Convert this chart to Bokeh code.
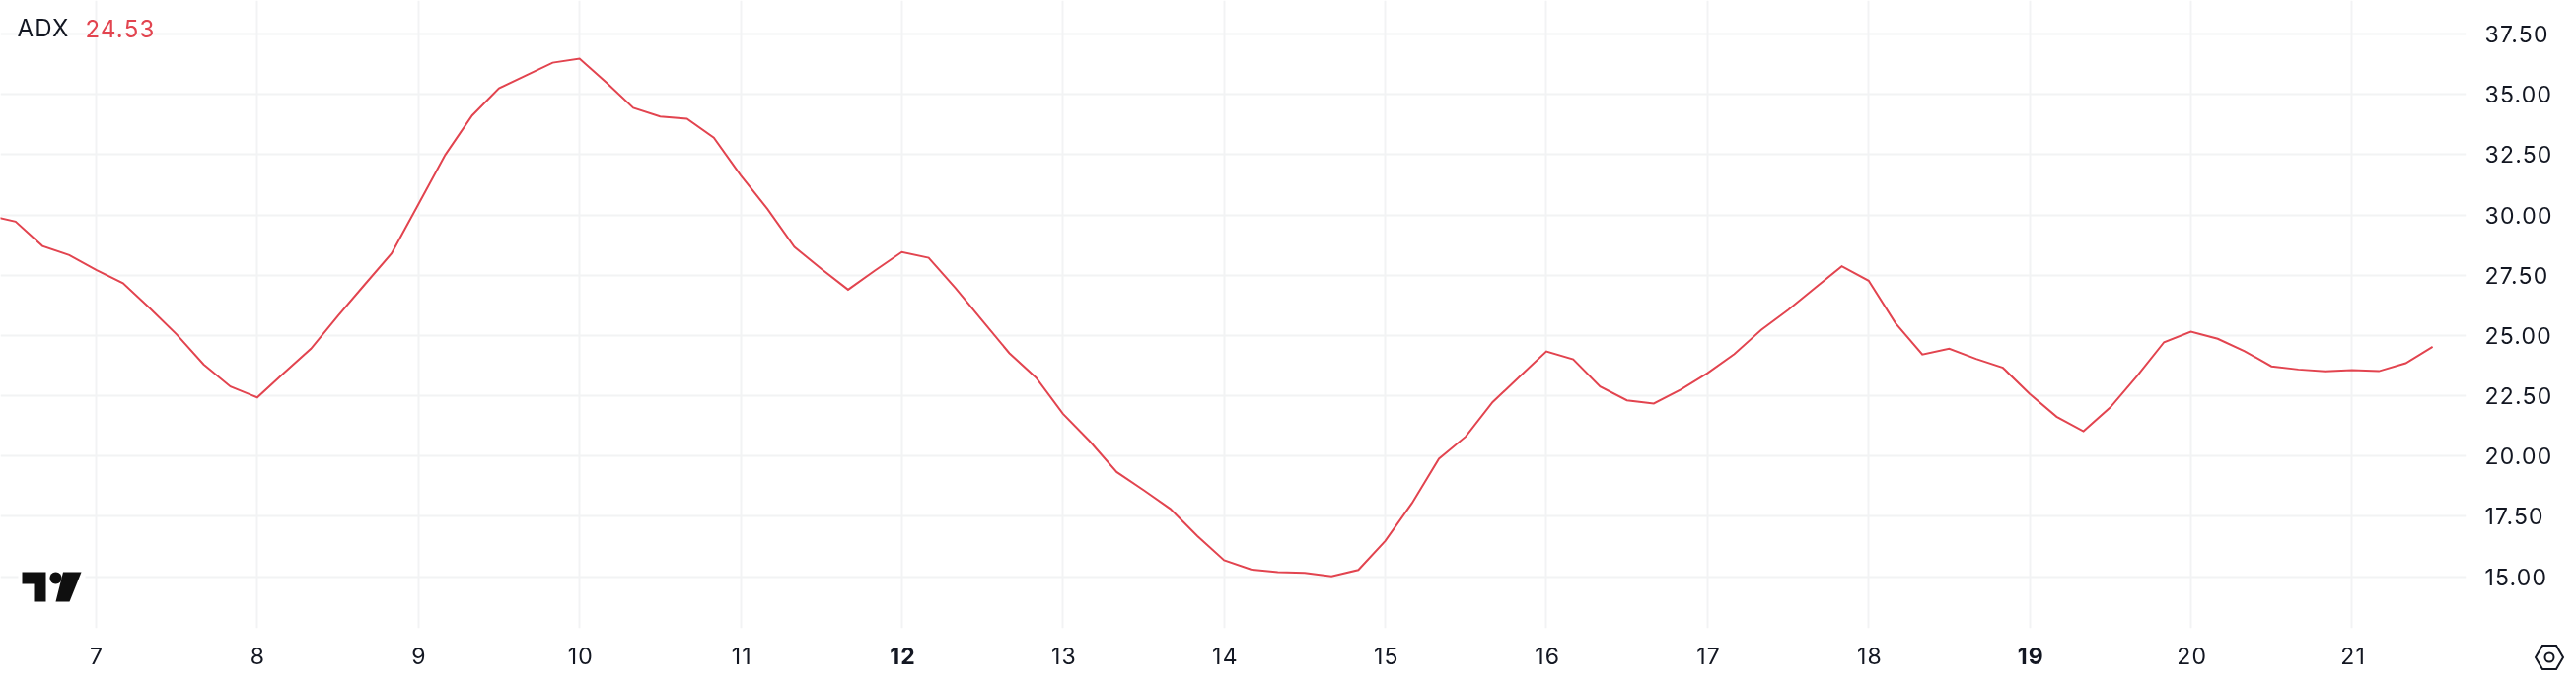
from bokeh.plotting import figure
from bokeh.layouts import column
from bokeh.models import Div, FixedTicker, Label, LinearAxis, PolyAnnotation, Range1d
from bokeh.embed import file_html
from bokeh.resources import INLINE
import math

adx_values = [
    29.98, 29.72, 28.71, 28.33, 27.72, 27.17, 26.13, 25.04, 23.80, 22.88, 22.43, 23.45, 24.45, 25.81, 27.11, 28.40,
    30.44, 32.49, 34.12, 35.25, 35.78, 36.31, 36.48, 35.49, 34.44, 34.08, 33.99, 33.20, 31.64, 30.24, 28.67, 27.76,
    26.90, 27.69, 28.46, 28.22, 26.96, 25.61, 24.27, 23.25, 21.75, 20.61, 19.34, 18.59, 17.81, 16.69, 15.68, 15.30,
    15.19, 15.16, 15.01, 15.28, 16.48, 18.05, 19.89, 20.81, 22.24, 23.29, 24.34, 24.01, 22.88, 22.31, 22.18, 22.75,
    23.44, 24.23, 25.23, 26.06, 26.97, 27.87, 27.27, 25.51, 24.21, 24.45, 24.03, 23.66, 22.57, 21.63, 21.03, 22.02,
    23.32, 24.72, 25.16, 24.86, 24.35, 23.72, 23.59, 23.51, 23.56, 23.52, 23.85, 24.53,
]
first_day = 6 + 1 / 3
bars_per_day = 6
days = [first_day + i / bars_per_day for i in range(len(adx_values))]

x_ticks = [7, 8, 9, 10, 11, 12, 13, 14, 15, 16, 17, 18, 19, 20, 21]
bold_x_ticks = [12, 19]
y_ticks = [15, 17.5, 20, 22.5, 25, 27.5, 30, 32.5, 35, 37.5]
indicator_name = "ADX"
indicator_value = "24.53"

FONT = "Inter"
INK = "#131722"
RED = "#e2444f"
GRID = "#f2f3f4"
FRAME_BOTTOM = 637


def sy(y):
    # screen units of annotations count upward from the frame's bottom edge
    return FRAME_BOTTOM - y


chart = figure(
    width=2612, height=692, output_backend="svg", toolbar_location=None,
    x_range=Range1d(6.4064, 21.7075), y_range=Range1d(12.858, 38.889),
    y_axis_location="right", min_border_left=0, min_border_top=0,
    min_border_right=112, min_border_bottom=55,
)
chart.stylesheets = [":host{position:fixed !important;left:0 !important;top:0 !important;letter-spacing:1.2px;}"]
chart.outline_line_color = None
chart.background_fill_color = "white"
chart.border_fill_color = None

chart.xgrid.ticker = FixedTicker(ticks=x_ticks)
chart.ygrid.ticker = FixedTicker(ticks=y_ticks)
for g in (chart.xgrid, chart.ygrid):
    g.grid_line_color = GRID
    g.grid_line_width = 2

bold_axis = LinearAxis(
    ticker=FixedTicker(ticks=bold_x_ticks),
    major_label_overrides={t: str(t) for t in bold_x_ticks},
    major_label_text_font_style="bold",
    major_label_standoff=-20,
)
chart.add_layout(bold_axis, "below")

chart.xaxis[0].ticker = FixedTicker(ticks=[t for t in x_ticks if t not in bold_x_ticks])
chart.xaxis[0].major_label_overrides = {t: str(t) for t in x_ticks}
chart.yaxis.ticker = FixedTicker(ticks=y_ticks)
chart.yaxis.major_label_overrides = {t: f"{t:.2f}" for t in y_ticks}
for ax in (*chart.xaxis, *chart.yaxis):
    ax.axis_line_color = None
    ax.major_tick_line_color = None
    ax.minor_tick_line_color = None
    ax.major_tick_in = 0
    ax.major_tick_out = 0
    ax.minor_tick_in = 0
    ax.minor_tick_out = 0
    ax.major_label_text_font = FONT
    ax.major_label_text_font_size = "23px"
    ax.major_label_text_color = INK
chart.xaxis[0].major_label_standoff = 19
chart.yaxis.major_label_standoff = 19

chart.line(days, adx_values, line_color=RED, line_width=2, line_join="miter")

chart.add_layout(Label(x=17, y=sy(28), x_units="screen", y_units="screen", text=indicator_name, text_font=FONT,
                       text_font_size="24px", text_color=INK, text_baseline="middle"))
chart.add_layout(Label(x=86, y=sy(28), x_units="screen", y_units="screen", text=indicator_value, text_font=FONT,
                       text_font_size="24px", text_color=RED, text_baseline="middle"))


def poly(xs, ys, **kw):
    chart.add_layout(PolyAnnotation(xs=xs, ys=[sy(v) for v in ys], xs_units="screen", ys_units="screen",
                                    level="overlay", **kw))


# TradingView logo
poly([18, 86, 86, 18], [575, 575, 615, 615], fill_color="white", fill_alpha=1, line_color=None)
LOGO = "#0f0f0f"
poly([22, 46, 46, 34, 34, 22], [580, 580, 610, 610, 592, 592], fill_color=LOGO, fill_alpha=1, line_color=None)
poly([63.5, 82, 70, 56], [580, 580, 610, 610], fill_color=LOGO, fill_alpha=1, line_color=None)
poly([56 + 6 * math.cos(a / 12 * math.pi) for a in range(24)],
     [586 + 6 * math.sin(a / 12 * math.pi) for a in range(24)], fill_color=LOGO, fill_alpha=1, line_color=None)

# Settings hexagon, placed over the bottom-right corner
icon = Div(
    width=36, height=32, margin=0,
    text=(
        '<svg xmlns="http://www.w3.org/2000/svg" width="36" height="32" viewBox="0 0 36 32">'
        f'<polygon points="4,16 11,4 25,4 32,16 25,28 11,28" fill="none" stroke="{INK}" stroke-width="2"/>'
        f'<circle cx="18" cy="16" r="4.5" fill="none" stroke="{INK}" stroke-width="2"/></svg>'
    ),
    stylesheets=[":host{position:fixed !important;left:2567px !important;top:651px !important;z-index:5;}"],
)

p = column(chart, icon, width=2596, height=676)

open("out.html", "w").write(file_html(p, INLINE))
